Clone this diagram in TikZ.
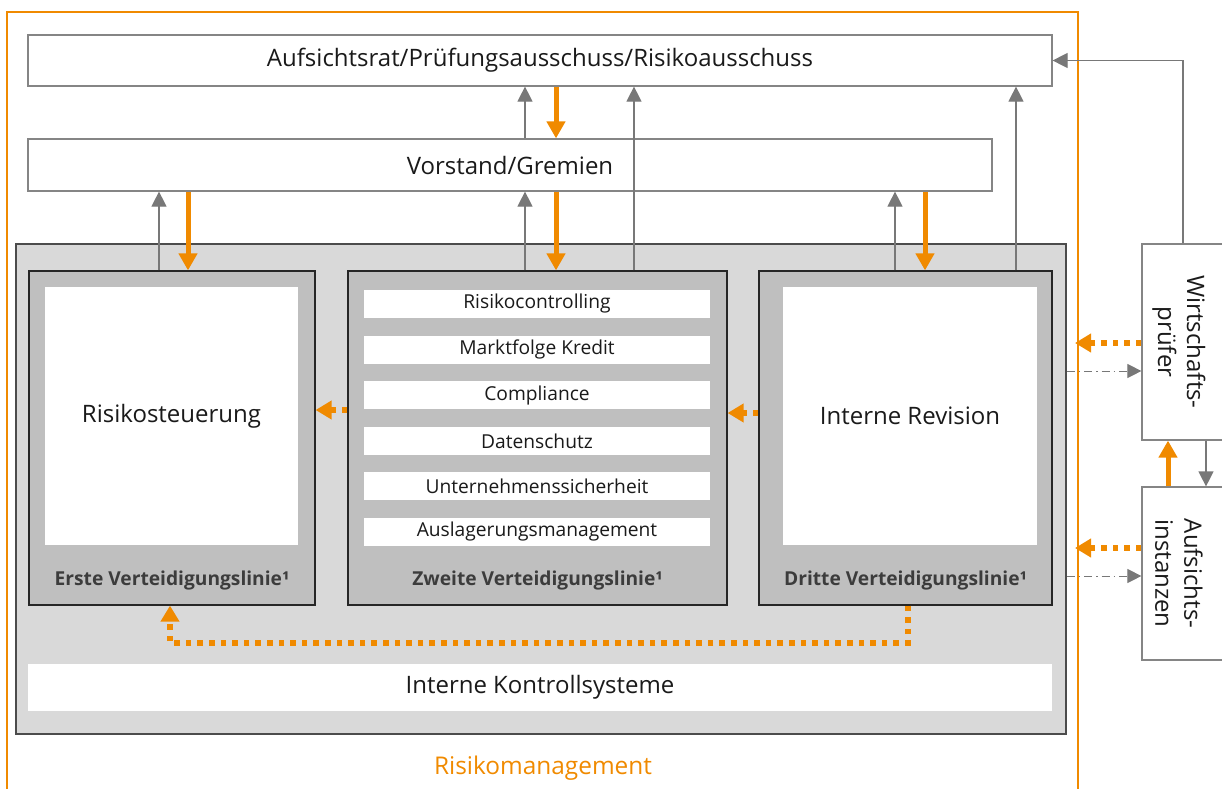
\documentclass[tikz,border=0pt]{standalone}
\usepackage{fontspec}
\setmainfont{Open Sans}
\usetikzlibrary{arrows.meta}

\definecolor{rmorange}{RGB}{240,138,0}
\definecolor{rahmengrau}{RGB}{217,217,217}
\definecolor{liniengrau}{RGB}{191,191,191}
\definecolor{pfeilgrau}{RGB}{120,120,120}
\definecolor{textschwarz}{RGB}{26,26,26}

\begin{document}
\begin{tikzpicture}[x=0.5pt,y=-0.5pt]

\tikzstyle{block} = [draw=pfeilgrau!90, line width=0.6pt, rectangle, fill=white, inner sep=0pt, text=textschwarz, font=\fontsize{12}{14}\selectfont]
\tikzstyle{lane} = [draw=black!85, line width=0.6pt, rectangle, fill=liniengrau, inner sep=0pt]
\tikzstyle{inner} = [rectangle, fill=white, inner sep=0pt, text=textschwarz, font=\fontsize{12}{14}\selectfont]
\tikzstyle{strip} = [inner, minimum width=173pt, minimum height=14pt, font=\fontsize{9.6}{11}\selectfont]
\tikzstyle{lanelabel} = [text=textschwarz!85, font=\bfseries\fontsize{9.6}{11}\selectfont]
\tikzstyle{grayarr} = [draw=pfeilgrau, line width=0.6pt, -{Triangle[width=7.5pt,length=7.5pt]}]
\tikzstyle{orangearr} = [draw=rmorange, line width=2.5pt, -{Triangle[width=9pt,length=8.5pt]}]
\tikzstyle{orangedot} = [draw=rmorange, line width=2.8pt, dash pattern=on 2.8pt off 3pt, -{Triangle[width=9pt,length=8pt]}]
\tikzstyle{strichpunkt} = [draw=pfeilgrau, line width=0.5pt, dash pattern=on 4pt off 2pt on 0.7pt off 2pt, -{Triangle[width=7pt,length=7pt]}]

\useasboundingbox (0,0) rectangle (1222,788);

\draw[rmorange, line width=0.6pt] (7,800) |- (1078,12) -- (1078,800);
\node[text=rmorange, font=\fontsize{12.2}{14}\selectfont] (rm) at (543,768) {Risikomanagement};

\node[block, minimum width=512pt, minimum height=25.5pt] (aufsicht) at (540,60.5) {Aufsichtsrat/Prüfungsausschuss/Risikoausschuss};
\node[block, minimum width=482pt, minimum height=26pt] (vorstand) at (510,165) {Vorstand/Gremien};

\node[draw=black!70, line width=0.8pt, fill=rahmengrau, inner sep=0pt, minimum width=525pt, minimum height=245pt] (rahmen) at (541,489) {};
\node[inner, minimum width=512pt, minimum height=23.5pt] (iks) at (540,687.5) {Interne Kontrollsysteme};

\node[lane, minimum width=143pt, minimum height=167pt] (erste) at (172,438) {};
\node[inner, minimum width=126.5pt, minimum height=129pt] (steuerung) at (171.5,416) {Risikosteuerung};
\node[lanelabel] (erstelabel) at (172,581) {Erste Verteidigungslinie¹};

\node[lane, minimum width=189.5pt, minimum height=167pt] (zweite) at (537.5,438) {};
\foreach \name [count=\i from 0] in {Risikocontrolling, Marktfolge Kredit, Compliance, Datenschutz, Unternehmenssicherheit, Auslagerungsmanagement}
  \node[strip] (strip\i) at (537,{304+45.6*\i}) {\name};
\node[lanelabel] (zweitelabel) at (537.5,581) {Zweite Verteidigungslinie¹};

\node[lane, minimum width=146.5pt, minimum height=167pt] (dritte) at (905.5,438) {};
\node[inner, minimum width=127pt, minimum height=129pt] (revision) at (910,416) {Interne Revision};
\node[lanelabel] (drittelabel) at (905.5,581) {Dritte Verteidigungslinie¹};

\node[block, minimum width=49pt, minimum height=98pt] (wp) at (1191,342) {};
\node[rotate=-90, align=center, text=textschwarz, font=\fontsize{12}{14.5}\selectfont] (wptext) at (1179,342) {Wirtschafts-\\prüfer};
\node[block, minimum width=49pt, minimum height=86.5pt] (ai) at (1191,573.5) {};
\node[rotate=-90, align=center, text=textschwarz, font=\fontsize{12}{14.5}\selectfont] (aitext) at (1179,573.5) {Aufsichts-\\instanzen};

\draw[grayarr] (159,0 |- erste.north) -- (159,0 |- vorstand.south);
\draw[orangearr] (188,0 |- vorstand.south) -- (188,0 |- erste.north);
\draw[grayarr] (525,0 |- zweite.north) -- (525,0 |- vorstand.south);
\draw[orangearr] (556,0 |- vorstand.south) -- (556,0 |- zweite.north);
\draw[grayarr] (634,0 |- zweite.north) -- (634,0 |- aufsicht.south);
\draw[grayarr] (525,0 |- vorstand.north) -- (525,0 |- aufsicht.south);
\draw[orangearr] (556,0 |- aufsicht.south) -- (556,0 |- vorstand.north);
\draw[grayarr] (895,0 |- dritte.north) -- (895,0 |- vorstand.south);
\draw[orangearr] (925,0 |- vorstand.south) -- (925,0 |- dritte.north);
\draw[grayarr] (1016,0 |- dritte.north) -- (1016,0 |- aufsicht.south);
\draw[grayarr] (1183,0 |- wp.north) |- (aufsicht.east);

\draw[orangedot] (zweite.west |- 0,410) -- (erste.east |- 0,410);
\draw[orangedot] (dritte.west |- 0,413) -- (zweite.east |- 0,413);
\draw[orangedot] (908,0 |- dritte.south) |- (170,643) -- (170,0 |- erste.south);

\draw[orangedot] (wp.west |- 0,343) -- (1075,343);
\draw[strichpunkt] (rahmen.east |- 0,371) -- (wp.west |- 0,371);
\draw[orangearr] (1168,0 |- ai.north) -- (1168,0 |- wp.south);
\draw[grayarr] (1206,0 |- wp.south) -- (1206,0 |- ai.north);
\draw[orangedot] (ai.west |- 0,548) -- (1075,548);
\draw[strichpunkt] (rahmen.east |- 0,576) -- (ai.west |- 0,576);

\end{tikzpicture}
\end{document}
